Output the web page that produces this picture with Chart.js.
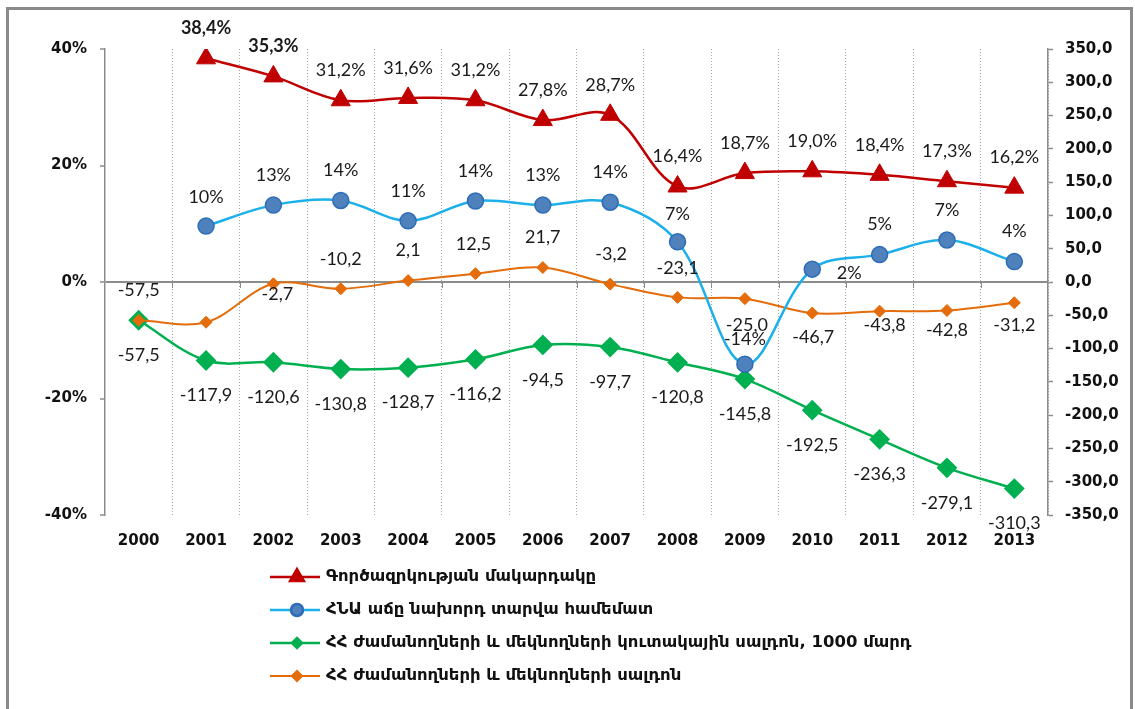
<!DOCTYPE html>
<html><head><meta charset="utf-8">
<script src="https://cdn.jsdelivr.net/npm/chart.js@4.4.1/dist/chart.umd.min.js"></script>
<style>html,body{margin:0;padding:0;background:#fff;}canvas{display:block;}</style>
</head><body>
<canvas id="c" width="1135" height="709"></canvas>
<script>
// ---- data ----
const years = ['2000','2001','2002','2003','2004','2005','2006','2007','2008','2009','2010','2011','2012','2013'];
const unemploymentRate = [null,38.4,35.3,31.2,31.6,31.2,27.8,28.7,16.4,18.7,19.0,18.4,17.3,16.2];
const gdpGrowth = [null,9.6,13.2,14.0,10.5,13.9,13.2,13.7,6.9,-14.1,2.2,4.7,7.2,3.5];
const cumulativeBalance = [-57.5,-117.9,-120.6,-130.8,-128.7,-116.2,-94.5,-97.7,-120.8,-145.8,-192.5,-236.3,-279.1,-310.3];
const annualBalance = [-57.5,-60.4,-2.7,-10.2,2.1,12.5,21.7,-3.2,-23.1,-25.0,-46.7,-43.8,-42.8,-31.2];
const leftTicks = [-40,-20,0,20,40];
const rightTicks = [-350,-300,-250,-200,-150,-100,-50,0,50,100,150,200,250,300,350];
const seriesNames = [
  'Գործազրկության մակարդակը',
  'ՀՆԱ աճը նախորդ տարվա համեմատ',
  'ՀՀ ժամանողների և մեկնողների կուտակային սալդոն, 1000 մարդ',
  'ՀՀ ժամանողների և մեկնողների սալդոն'
];

const comma = (v, d) => v.toFixed(d).replace('.', ',');
const AXIS_FONT = {family: '"DejaVu Sans"', size: 15, weight: 'bold'};
const GRAY = '#8c8c8c';

// ---- plugins ----
const framePlugin = {
  id: 'frame',
  beforeDraw(chart) {
    const ctx = chart.ctx;
    ctx.save();
    ctx.fillStyle = '#fff';
    ctx.fillRect(0, 0, chart.width, chart.height);
    ctx.strokeStyle = '#8a8a8a';
    ctx.lineWidth = 3;
    ctx.strokeRect(7.5, 8.5, 1124, 720);
    ctx.restore();
  },
  beforeDatasetsDraw(chart) {
    const ctx = chart.ctx, xs = chart.scales.x, y0 = chart.scales.y.getPixelForValue(0);
    const n = years.length;
    ctx.save();
    ctx.strokeStyle = GRAY; ctx.lineWidth = 1;
    for (let i = 1; i < n; i++) {
      const x = Math.round((xs.getPixelForValue(i - 1) + xs.getPixelForValue(i)) / 2) + 0.5;
      ctx.beginPath(); ctx.moveTo(x, y0); ctx.lineTo(x, y0 + 6); ctx.stroke();
    }
    ctx.restore();
  },
  afterDraw(chart) {
    const ctx = chart.ctx;
    const ys = [577, 610, 643, 676];
    chart.data.datasets.forEach((ds, i) => {
      const y = ys[i];
      ctx.save();
      ctx.strokeStyle = ds.borderColor; ctx.lineWidth = ds.borderWidth;
      ctx.beginPath(); ctx.moveTo(270, y); ctx.lineTo(320, y); ctx.stroke();
      ctx.fillStyle = ds.pointBackgroundColor; ctx.strokeStyle = ds.pointBorderColor;
      Chart.helpers.drawPoint(ctx, {pointStyle: ds.pointStyle, radius: ds.legendRadius, rotation: 0, borderWidth: 1}, 297, y);
      ctx.fillStyle = '#111';
      ctx.font = 'bold 16.5px "DejaVu Sans"';
      ctx.textBaseline = 'middle'; ctx.textAlign = 'left';
      ctx.fillText(ds.label, 326, y);
      ctx.restore();
    });
  }
};

const labelPlugin = {
  id: 'pointLabels',
  afterDatasetsDraw(chart) {
    const ctx = chart.ctx;
    chart.data.datasets.forEach((ds, i) => {
      const lc = ds.labelCfg; if (!lc) return;
      const meta = chart.getDatasetMeta(i);
      meta.data.forEach((pt, j) => {
        const v = ds.data[j]; if (v == null) return;
        const off = lc.offsets ? lc.offsets[j] : lc.offset;
        if (!off) return;
        ctx.save();
        ctx.font = ((lc.bold && lc.bold[j]) ? 'bold ' : '') + '18px Lato';
        ctx.fillStyle = '#1a1a1a';
        ctx.textAlign = 'center'; ctx.textBaseline = 'middle';
        ctx.fillText(lc.format(v), pt.x + off[0], pt.y + off[1]);
        ctx.restore();
      });
    });
  }
};

// ---- chart ----
new Chart(document.getElementById('c'), {
  type: 'line',
  data: {
    labels: years,
    datasets: [
      {
        label: seriesNames[0], data: unemploymentRate, yAxisID: 'y', order: 1,
        borderColor: '#C00000', borderWidth: 2.5, tension: 0.35,
        pointStyle: 'triangle', pointRadius: 11, pointBackgroundColor: '#C00000', pointBorderColor: '#C00000', pointBorderWidth: 1,
        legendRadius: 8,
        labelCfg: { offset: [0, -30], bold: [false, true, true], format: v => comma(v, 1) + '%' }
      },
      {
        label: seriesNames[1], data: gdpGrowth, yAxisID: 'y', order: 2,
        borderColor: '#1CB0EA', borderWidth: 2.5, tension: 0.35,
        pointStyle: 'circle', pointRadius: 8, pointBackgroundColor: '#4F81BD', pointBorderColor: '#2D6DB8', pointBorderWidth: 1.5,
        legendRadius: 6,
        labelCfg: {
          offsets: [null,[0,-29],[0,-30],[0,-30],[0,-30],[0,-30],[0,-30],[0,-30],[0,-28],[0,-25],[37,4],[0,-30],[0,-30],[0,-30]],
          format: v => Math.round(v) + '%'
        }
      },
      {
        label: seriesNames[2], data: cumulativeBalance, yAxisID: 'y1', order: 4,
        borderColor: '#00B050', borderWidth: 2.5, tension: 0.35,
        pointStyle: 'rectRot', pointRadius: 9, pointBackgroundColor: '#00B050', pointBorderColor: '#00B050', pointBorderWidth: 2,
        legendRadius: 5,
        labelCfg: { offset: [0, 35], format: v => comma(v, 1) }
      },
      {
        label: seriesNames[3], data: annualBalance, yAxisID: 'y1', order: 3,
        borderColor: '#E46C0A', borderWidth: 2, tension: 0.35,
        pointStyle: 'rectRot', pointRadius: 6, pointBackgroundColor: '#E46C0A', pointBorderColor: '#E46C0A', pointBorderWidth: 1,
        legendRadius: 5,
        labelCfg: {
          offsets: [[0,-30],null,[4,10],[0,-30],[0,-30],[-2,-29],[0,-30],[1,-30],[0,-29],[2,27],[1,24],[5,14],[0,20],[0,22]],
          format: v => comma(v, 1)
        }
      }
    ]
  },
  options: {
    responsive: false,
    animation: false,
    devicePixelRatio: 1,
    layout: { padding: { top: 49, left: 0, right: 0, bottom: 0 } },
    plugins: { legend: { display: false }, tooltip: { enabled: false } },
    scales: {
      x: {
        offset: true,
        grid: { offset: true, drawTicks: false, color: '#a6a6a6', lineWidth: 1 },
        border: { display: false, dash: [1, 2] },
        ticks: { font: AXIS_FONT, color: '#111', padding: 17, maxRotation: 0, autoSkip: false },
        afterFit(s) { s.height = 709 - 515; }
      },
      y: {
        position: 'left', min: -40, max: 40,
        afterBuildTicks(s) { s.ticks = leftTicks.map(v => ({value: v})); },
        grid: {
          color: c => (c.tick && c.tick.value === 0) ? GRAY : 'rgba(0,0,0,0)',
          lineWidth: 2, tickColor: GRAY, tickLength: 5, tickWidth: 1.5
        },
        border: { display: true, color: GRAY, width: 1.5 },
        ticks: { font: AXIS_FONT, color: '#111', padding: 13, callback: v => v + '%' },
        afterFit(s) { s.width = 105; }
      },
      y1: {
        position: 'right', min: -350, max: 350,
        afterBuildTicks(s) { s.ticks = rightTicks.map(v => ({value: v})); },
        grid: { drawOnChartArea: false, tickColor: GRAY, tickLength: 5, tickWidth: 1.5 },
        border: { display: true, color: GRAY, width: 1.5 },
        ticks: { font: AXIS_FONT, color: '#111', padding: 12, callback: v => comma(v, 1) },
        afterFit(s) { s.width = 1135 - 1048; }
      }
    }
  },
  plugins: [framePlugin, labelPlugin]
});
</script>
</body></html>
